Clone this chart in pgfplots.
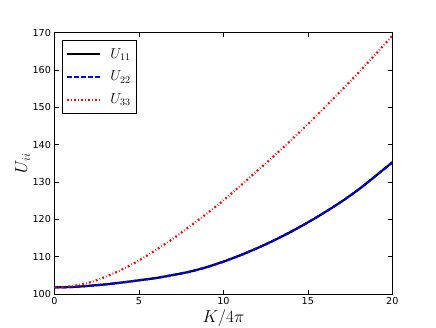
\documentclass[border=0pt]{standalone}
\usepackage{fontspec}
\setmainfont{DejaVu Sans}
\usepackage{pgfplots}
\pgfplotsset{compat=1.18}

% U_11 and U_22 coincide, U_33 rises faster
\pgfplotstableread{
K     U11    U22    U33
0     101.8  101.8  101.8
1     101.9  101.9  102.1
2     102.2  102.2  103.0
3     102.6  102.6  104.6
4     103.1  103.1  106.6
5     103.7  103.7  109.0
6     104.3  104.3  111.8
7     105.1  105.1  114.8
8     106.0  106.0  118.1
9     107.2  107.2  121.5
10    108.7  108.7  125.1
11    110.4  110.4  129.0
12    112.3  112.3  133.0
13    114.4  114.4  137.0
14    116.7  116.7  141.2
15    119.2  119.2  145.5
16    121.9  121.9  150.0
17    124.8  124.8  154.6
18    128.0  128.0  159.3
19    131.6  131.6  164.2
20    135.3  135.3  169.2
}\udata

\begin{document}
\begin{tikzpicture}
\path[use as bounding box] (-54.5pt,-32.9pt) rectangle (381.5pt,294.1pt);
\begin{axis}[
    scale only axis,
    width=337.8pt, height=261.4pt,
    xmin=0, xmax=20, ymin=100, ymax=170,
    xtick={0,5,...,20}, ytick={100,110,...,170},
    tick align=inside,
    major tick length=4pt,
    axis line style={line width=0.8pt},
    every tick/.style={black, line width=0.6pt},
    /pgf/number format/assume math mode=true,
    ticklabel style={font=\fontsize{9.6}{11}\selectfont},
    xlabel={$K/4\pi$},
    ylabel={$U_{ii}$},
    xlabel style={yshift=2pt},
    ylabel style={yshift=-4pt},
    label style={font=\fontsize{16.5}{18}\selectfont},
    legend style={at={(0.022,0.972)}, anchor=north west,
        draw=black, line width=0.6pt, row sep=7.5pt,
        inner xsep=4pt, inner ysep=6pt,
        font=\fontsize{14}{16}\selectfont},
    legend cell align=left,
    legend image code/.code={\draw[#1] (0pt,0pt) -- (33pt,0pt); \path (40pt,0pt);},
]
\addplot[black, line width=2.2pt, smooth] table[x=K, y=U11] {\udata};
\addplot[blue, line width=2.2pt, smooth, dash pattern=on 4.5pt off 2.5pt] table[x=K, y=U22] {\udata};
\addplot[red, line width=2.2pt, smooth, dash pattern=on 1.8pt off 2.3pt on 0.6pt off 2.3pt] table[x=K, y=U33] {\udata};
\legend{$U_{11}$, $U_{22}$, $U_{33}$}
\end{axis}
\end{tikzpicture}
\end{document}
